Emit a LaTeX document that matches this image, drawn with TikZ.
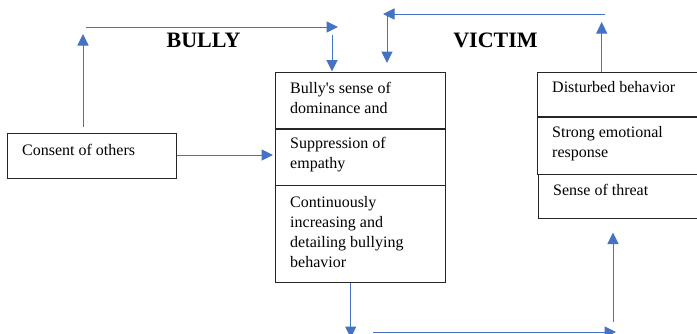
\documentclass[tikz,border=0pt]{standalone}
\usepackage{fontspec}
\setmainfont{Liberation Serif}
\usetikzlibrary{arrows.meta}
\definecolor{flowblue}{RGB}{68,114,196}
\tikzset{
  part/.style={draw=black!85, line width=1pt, inner sep=0pt, anchor=north west},
  boxtext/.style={anchor=north west, inner sep=0pt, align=left,
    font=\fontsize{16}{20}\selectfont},
  heading/.style={inner sep=0pt, font=\fontsize{22}{26}\selectfont\bfseries},
  flow/.style={draw=flowblue, line width=1pt,
    -{Triangle[length=11.5pt,width=11pt]}},
}
\begin{document}
\begin{tikzpicture}[x=1pt,y=-1pt]
\useasboundingbox (0,0) rectangle (697,333);

% headings
\node[heading] (bully) at (203.5,40) {BULLY};
\node[heading] (victim) at (495.5,40) {VICTIM};

% left box
\node[part, minimum width=169pt, minimum height=45pt] (consent) at (7,133) {};
\node[boxtext] (consentT) at (22,141.5) {\strut Consent of others};

% middle column of boxes
\node[part, minimum width=170pt, minimum height=57pt] (mid1) at (275,71.5) {};
\node[part, minimum width=170pt, minimum height=56.5pt] (mid2) at (275,128.5) {};
\node[part, minimum width=170pt, minimum height=96.5pt] (mid3) at (275,185) {};
\draw[black!85, line width=1.8pt] (mid2.north west) -- (mid2.north east);
\node[boxtext] (mid1T) at (290,79.5) {\strut Bully\textquotesingle s sense of\\dominance and};
\node[boxtext] (mid2T) at (290,134.5) {\strut Suppression of\\empathy};
\node[boxtext] (mid3T) at (290,193.5) {\strut Continuously\\increasing and\\detailing bullying\\behavior};

% right column of boxes (runs past the page edge)
\node[part, minimum width=180pt, minimum height=45.2pt] (rt1) at (537,71.5) {};
\node[part, minimum width=180pt, minimum height=57.3pt] (rt2) at (537,116.7) {};
\node[part, minimum width=180pt, minimum height=44.3pt] (rt3) at (537.5,174) {};
\draw[black!85, line width=1.8pt] (rt2.north west) -- (rt2.north east);
\node[boxtext] (rt1T) at (552,78.5) {\strut Disturbed behavior};
\node[boxtext] (rt2T) at (552,123.5) {\strut Strong emotional\\response};
\node[boxtext] (rt3T) at (553,181.5) {\strut Sense of threat};

% free ends of the connectors
\coordinate (upL) at (83,34);
\coordinate (upLs) at (83,127);
\coordinate (topLa) at (86,27);
\coordinate (topLb) at (338,27);
\coordinate (downLs) at (332,35);
\coordinate (upR) at (601.7,22);
\coordinate (topRa) at (605,14);
\coordinate (topRb) at (383,14);
\coordinate (downRs) at (387,16);
\coordinate (downRe) at (387,63);
\coordinate (botDown) at (350.7,338);
\coordinate (botA) at (373,332);
\coordinate (botB) at (616,332);
\coordinate (upBs) at (613,322);
\coordinate (upBe) at (613,232.5);

% bully side
\draw[flow] (upLs) -- (upL);
\draw[flow] (topLa) -- (topLb);
\draw[flow] (downLs) -- (downLs |- mid1.north);
\draw[flow] (consent.east |- 0,155) -- (273,155);

% victim side
\draw[flow] (rt1.north west -| upR) -- (upR);
\draw[flow] (topRa) -- (topRb);
\draw[flow] (downRs) -- (downRe);

% bottom loop
\draw[flow] (mid3.south west -| botDown) -- (botDown);
\draw[flow] (botA) -- (botB);
\draw[flow] (upBs) -- (upBe);
\end{tikzpicture}
\end{document}
